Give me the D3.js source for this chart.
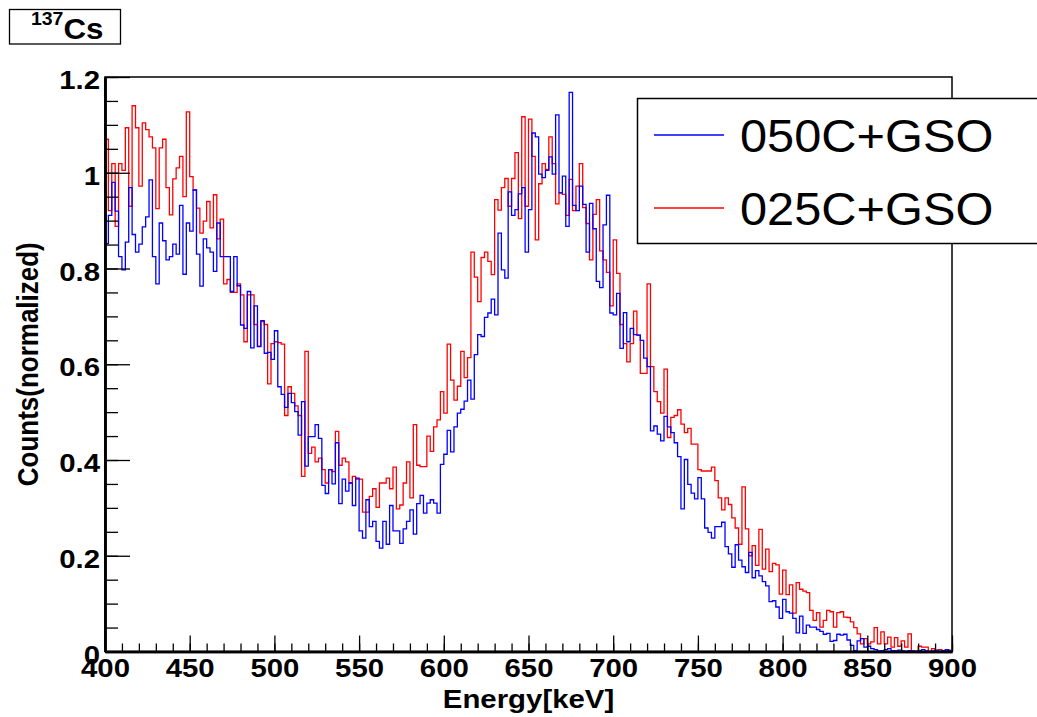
<!DOCTYPE html>
<html>
<head>
<meta charset="utf-8">
<script src="https://cdn.jsdelivr.net/npm/d3@7"></script>
<style>
  body { margin: 0; background: #fff; }
  svg { display: block; font-family: "Liberation Sans", Arial, Helvetica, sans-serif; }
</style>
</head>
<body>
<svg id="chart" width="1037" height="717"></svg>
<script>
// histogram: 250 bins of 2 keV from 400 to 900 keV
const binStart = 400, binWidth = 2;

// 050C+GSO (blue)
const blue = [
  0.852, 0.911, 0.98, 0.92, 0.825, 0.797, 0.855, 0.969, 0.871, 0.834,
  0.851, 0.887, 0.908, 0.985, 0.825, 0.768, 0.895, 0.858, 0.818, 0.825,
  0.851, 0.83, 0.932, 0.788, 0.895, 0.878, 0.964, 0.83, 0.763, 0.862,
  0.843, 0.834, 0.794, 0.895, 0.825, 0.825, 0.825, 0.752, 0.825, 0.764,
  0.682, 0.675, 0.752, 0.634, 0.722, 0.637, 0.691, 0.623, 0.625, 0.61,
  0.67, 0.553, 0.537, 0.51, 0.539, 0.52, 0.501, 0.452, 0.522, 0.387,
  0.449, 0.449, 0.474, 0.445, 0.347, 0.33, 0.38, 0.35, 0.436, 0.309,
  0.36, 0.335, 0.352, 0.305, 0.362, 0.252, 0.237, 0.317, 0.261, 0.272,
  0.23, 0.216, 0.272, 0.224, 0.305, 0.252, 0.252, 0.226, 0.256, 0.272,
  0.296, 0.245, 0.309, 0.326, 0.289, 0.31, 0.317, 0.31, 0.289, 0.391,
  0.412, 0.462, 0.417, 0.469, 0.498, 0.506, 0.523, 0.567, 0.527, 0.62,
  0.662, 0.658, 0.698, 0.707, 0.736, 0.703, 0.874, 0.797, 0.78, 0.96,
  0.911, 0.923, 0.956, 0.969, 0.834, 0.923, 1.083, 1.075, 0.997, 0.99,
  1.005, 1.033, 0.997, 1.121, 0.958, 0.993, 0.888, 1.168, 0.932, 0.921,
  0.972, 0.934, 0.834, 0.936, 0.883, 0.773, 0.76, 0.891, 0.953, 0.707,
  0.703, 0.748, 0.633, 0.708, 0.647, 0.675, 0.662, 0.661, 0.65, 0.613,
  0.595, 0.461, 0.471, 0.454, 0.44, 0.491, 0.469, 0.457, 0.436, 0.407,
  0.298, 0.401, 0.349, 0.331, 0.319, 0.363, 0.319, 0.258, 0.249, 0.237,
  0.261, 0.261, 0.27, 0.219, 0.204, 0.176, 0.223, 0.191, 0.177, 0.165,
  0.207, 0.154, 0.169, 0.158, 0.146, 0.137, 0.104, 0.106, 0.093, 0.069,
  0.109, 0.083, 0.08, 0.069, 0.039, 0.074, 0.038, 0.055, 0.051, 0.051,
  0.046, 0.042, 0.036, 0.038, 0.021, 0.023, 0.036, 0.034, 0.036, 0.024,
  0.013, 0.002, 0.022, 0.027, 0.009, 0.011, 0.006, 0.004, 0.001, 0.002,
  0.004, 0.006, 0.002, 0.001, 0.003, 0.001, 0.0, 0.002, 0.001, 0.0,
  0.002, 0.004, 0.001, 0.0, 0.001, 0.003, 0.0, 0.002, 0.004, 0.001
];

// 025C+GSO (red)
const red = [
  1.07, 0.921, 1.019, 0.888, 1.019, 1.005, 1.094, 0.93, 1.14, 1.094,
  0.972, 1.104, 1.09, 1.075, 1.052, 0.925, 1.052, 1.07, 0.969, 0.912,
  0.987, 1.01, 1.034, 0.95, 1.127, 0.992, 0.964, 0.926, 0.874, 0.899,
  0.94, 0.885, 0.954, 0.862, 0.903, 0.768, 0.777, 0.75, 0.75, 0.768,
  0.745, 0.647, 0.745, 0.745, 0.683, 0.638, 0.689, 0.683, 0.559, 0.643,
  0.647, 0.645, 0.642, 0.493, 0.553, 0.539, 0.513, 0.493, 0.366, 0.627,
  0.414, 0.427, 0.396, 0.404, 0.38, 0.352, 0.38, 0.376, 0.46, 0.389,
  0.404, 0.396, 0.352, 0.366, 0.36, 0.36, 0.291, 0.291, 0.324, 0.34,
  0.301, 0.352, 0.352, 0.362, 0.34, 0.385, 0.298, 0.306, 0.352, 0.396,
  0.321, 0.474, 0.389, 0.386, 0.386, 0.45, 0.418, 0.469, 0.484, 0.543,
  0.498, 0.642, 0.567, 0.525, 0.554, 0.627, 0.572, 0.614, 0.834, 0.782,
  0.731, 0.823, 0.834, 0.815, 0.787, 0.944, 0.922, 0.969, 0.988, 0.93,
  0.988, 1.042, 0.904, 1.117, 0.93, 1.112, 1.034, 0.86, 0.977, 1.019,
  1.007, 1.075, 1.019, 0.935, 0.958, 0.955, 0.911, 0.986, 0.921, 0.972,
  1.019, 0.927, 0.894, 0.818, 0.913, 0.944, 0.837, 0.818, 0.792, 0.722,
  0.86, 0.79, 0.683, 0.643, 0.605, 0.643, 0.711, 0.661, 0.581, 0.581,
  0.768, 0.595, 0.543, 0.522, 0.498, 0.59, 0.447, 0.489, 0.493, 0.505,
  0.475, 0.457, 0.466, 0.433, 0.433, 0.38, 0.377, 0.377, 0.377, 0.385,
  0.357, 0.321, 0.296, 0.321, 0.307, 0.279, 0.258, 0.224, 0.344, 0.256,
  0.2, 0.221, 0.18, 0.255, 0.172, 0.214, 0.167, 0.184, 0.181, 0.12,
  0.17, 0.119, 0.139, 0.08, 0.144, 0.13, 0.126, 0.123, 0.086, 0.065,
  0.081, 0.051, 0.065, 0.086, 0.083, 0.051, 0.081, 0.083, 0.072, 0.071,
  0.062, 0.05, 0.037, 0.016, 0.027, 0.016, 0.02, 0.05, 0.016, 0.041,
  0.016, 0.03, 0.009, 0.029, 0.011, 0.022, 0.009, 0.037, 0.0, 0.0,
  0.011, 0.009, 0.009, 0.0, 0.006, 0.002, 0.004, 0.002, 0.002, 0.003
];

const series = [
  { name: "050C+GSO", color: "#0000ff", values: blue },
  { name: "025C+GSO", color: "#ff0000", values: red }
];
const xTicks = [400, 450, 500, 550, 600, 650, 700, 750, 800, 850, 900];
const yTicks = [0, 0.2, 0.4, 0.6, 0.8, 1, 1.2];

const svg = d3.select("#chart");
const m = { left: 105, right: 952, top: 77, bottom: 651.5 };
const x = d3.scaleLinear().domain([400, 900]).range([m.left, m.right]);
const y = d3.scaleLinear().domain([0, 1.2]).range([m.bottom, m.top]);

svg.append("clipPath").attr("id", "plotclip").append("rect")
  .attr("x", m.left).attr("y", m.top).attr("width", m.right - m.left).attr("height", m.bottom - m.top);

// frame
svg.append("rect").attr("x", m.left).attr("y", m.top)
  .attr("width", m.right - m.left).attr("height", m.bottom - m.top)
  .attr("fill", "none").attr("stroke", "#000").attr("stroke-width", 1.5);

// histograms (steps)
const step = d3.line().x(d => x(d[0])).y(d => y(d[1])).curve(d3.curveStepAfter);
[series[1], series[0]].forEach(s => {
  const pts = s.values.map((v, i) => [binStart + i * binWidth, v]);
  pts.push([binStart + s.values.length * binWidth, s.values[s.values.length - 1]]);
  svg.append("path").datum(pts).attr("clip-path", "url(#plotclip)")
    .attr("d", step).attr("fill", "none").attr("stroke", s.color).attr("stroke-width", 1.3);
});

// x axis: minor + major ticks pointing inward
const gx = svg.append("g").attr("transform", `translate(0,${m.bottom})`);
gx.append("g").call(d3.axisBottom(x).tickValues(d3.range(400, 901, 10)).tickSize(-8).tickSizeOuter(0).tickFormat(""));
gx.append("g").call(d3.axisBottom(x).tickValues(xTicks).tickSize(-16).tickSizeOuter(0).tickPadding(6).tickFormat(d3.format("d")));
gx.selectAll("path.domain").attr("stroke-width", 2.5);
gx.selectAll("line").attr("stroke-width", 1.3);
gx.selectAll("text").attr("font-size", 26).attr("font-weight", "bold").attr("fill", "#000")
  .attr("font-family", "Liberation Sans, Arial, sans-serif")
  .attr("transform", "scale(1.13,1)").attr("dy", "0.74em");

// y axis
const gy = svg.append("g").attr("transform", `translate(${m.left},0)`);
gy.append("g").call(d3.axisLeft(y).tickValues(d3.range(0, 1.2001, 0.05)).tickSize(-13).tickSizeOuter(0).tickFormat(""));
gy.append("g").call(d3.axisLeft(y).tickValues(yTicks).tickSize(-25).tickSizeOuter(0).tickPadding(5).tickFormat(d3.format("~g")));
gy.selectAll("path.domain").attr("stroke-width", 2.5);
gy.selectAll("line").attr("stroke-width", 1.3);
gy.selectAll("text").attr("font-size", 26).attr("font-weight", "bold").attr("fill", "#000")
  .attr("font-family", "Liberation Sans, Arial, sans-serif")
  .attr("dy", "0.45em").attr("x", -5 / 1.13).attr("transform", "scale(1.13,1)");

// axis titles
svg.append("text").attr("transform", `translate(${(m.left + m.right) / 2},708) scale(1.13,1)`)
  .attr("text-anchor", "middle").attr("font-size", 26).attr("font-weight", "bold").text("Energy[keV]");
svg.append("text").attr("transform", `translate(38,${(m.top + m.bottom) / 2}) scale(1.13,1) rotate(-90)`)
  .attr("text-anchor", "middle").attr("font-size", 26).attr("font-weight", "bold").text("Counts(normalized)");

// legend
const lg = svg.append("g");
lg.append("rect").attr("x", 637.5).attr("y", 98.5).attr("width", 430).attr("height", 145)
  .attr("fill", "#fff").attr("stroke", "#000").attr("stroke-width", 1.5);
series.forEach((s, i) => {
  const ly = 135 + i * 73;
  lg.append("line").attr("x1", 654).attr("x2", 724).attr("y1", ly).attr("y2", ly)
    .attr("stroke", s.color).attr("stroke-width", 1.3);
  lg.append("text").attr("transform", `translate(740,${ly + 16.5}) scale(1.06,1)`)
    .attr("font-size", 46).text(s.name);
});

// title box
const tb = svg.append("g");
tb.append("rect").attr("x", 9.5).attr("y", 9.5).attr("width", 111).attr("height", 34.5)
  .attr("fill", "#fff").attr("stroke", "#000").attr("stroke-width", 1.3);
const tt = tb.append("text").attr("font-weight", "bold").attr("transform", "translate(31,39) scale(1.08,1)");
tt.append("tspan").attr("font-size", 18).attr("dy", -14).text("137");
tt.append("tspan").attr("font-size", 29).attr("dy", 14).text("Cs");
</script>
</body>
</html>
